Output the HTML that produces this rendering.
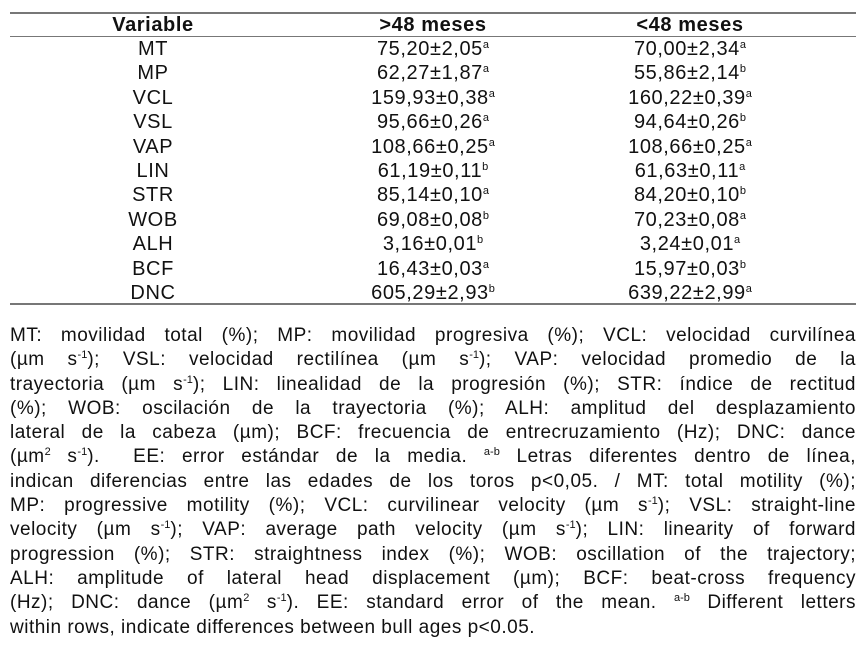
<!DOCTYPE html>
<html><head><meta charset="utf-8"><style>
body{margin:0;width:866px;height:659px;background:#fff;font-family:"Liberation Sans",sans-serif;color:#111;position:relative;overflow:hidden}
.rule{position:absolute;left:10px;width:846px;background:#777}
.cell{position:absolute;width:300px;text-align:center;font-size:20px;letter-spacing:0.6px;line-height:22px;transform:translateX(-150px)}
.hd{font-weight:bold}
sup{font-size:11px;vertical-align:7px;line-height:0;letter-spacing:0}
.fn{position:absolute;left:10px;width:846px;font-size:19px;letter-spacing:0.5px;line-height:24.3px;top:324px}
.fn div{text-align:justify;text-align-last:justify;white-space:nowrap;height:24.3px}
.fn div.last{text-align-last:left}
</style></head><body>
<div class="rule" style="top:12px;height:2px"></div>
<div class="rule" style="top:36px;height:1px"></div>
<div class="rule" style="top:303px;height:2px"></div>
<div id="tbl"></div>
<div class="fn">
<div>MT: movilidad total (%); MP: movilidad progresiva (%); VCL: velocidad curvilínea</div>
<div>(µm s<sup>-1</sup>); VSL: velocidad rectilínea (µm s<sup>-1</sup>); VAP: velocidad promedio de la</div>
<div>trayectoria (µm s<sup>-1</sup>); LIN: linealidad de la progresión (%); STR: índice de rectitud</div>
<div>(%); WOB: oscilación de la trayectoria (%); ALH: amplitud del desplazamiento</div>
<div>lateral de la cabeza (µm); BCF: frecuencia de entrecruzamiento (Hz); DNC: dance</div>
<div>(µm<sup>2</sup> s<sup>-1</sup>). &nbsp;EE: error estándar de la media. <sup>a-b</sup> Letras diferentes dentro de línea,</div>
<div>indican diferencias entre las edades de los toros p&lt;0,05. / MT: total motility (%);</div>
<div>MP: progressive motility (%); VCL: curvilinear velocity (µm s<sup>-1</sup>); VSL: straight-line</div>
<div>velocity (µm s<sup>-1</sup>); VAP: average path velocity (µm s<sup>-1</sup>); LIN: linearity of forward</div>
<div>progression (%); STR: straightness index (%); WOB: oscillation of the trajectory;</div>
<div>ALH: amplitude of lateral head displacement (µm); BCF: beat-cross frequency</div>
<div>(Hz); DNC: dance (µm<sup>2</sup> s<sup>-1</sup>). EE: standard error of the mean. <sup>a-b</sup> Different letters</div>
<div class="last">within rows, indicate differences between bull ages p&lt;0.05.</div>
</div>
<script>
const headers=["Variable",">48 meses","<48 meses"];
const variables=["MT","MP","VCL","VSL","VAP","LIN","STR","WOB","ALH","BCF","DNC"];
const older=["75,20±2,05","62,27±1,87","159,93±0,38","95,66±0,26","108,66±0,25","61,19±0,11","85,14±0,10","69,08±0,08","3,16±0,01","16,43±0,03","605,29±2,93"];
const olderSup=["a","a","a","a","a","b","a","b","b","a","b"];
const younger=["70,00±2,34","55,86±2,14","160,22±0,39","94,64±0,26","108,66±0,25","61,63±0,11","84,20±0,10","70,23±0,08","3,24±0,01","15,97±0,03","639,22±2,99"];
const youngerSup=["a","b","a","b","a","a","b","a","a","b","a"];
const cols=[153,433,690];
const t=document.getElementById('tbl');
function mk(x,y,html,cls,name){const d=document.createElement('div');d.className='cell '+cls;d.style.left=x+'px';d.style.top=y+'px';d.innerHTML=html;


t.appendChild(d);}
headers.forEach((h,i)=>mk(cols[i],14,h.replace('<','&lt;').replace('>','&gt;'),'hd','header-'+i));
variables.forEach((v,i)=>{const y=38+i*24.4;
mk(cols[0],y,v,'','row-label-'+v.toLowerCase());
mk(cols[1],y,older[i]+'<sup>'+olderSup[i]+'</sup>','','older-'+v.toLowerCase());
mk(cols[2],y,younger[i]+'<sup>'+youngerSup[i]+'</sup>','','younger-'+v.toLowerCase());});
</script>
</body></html>
